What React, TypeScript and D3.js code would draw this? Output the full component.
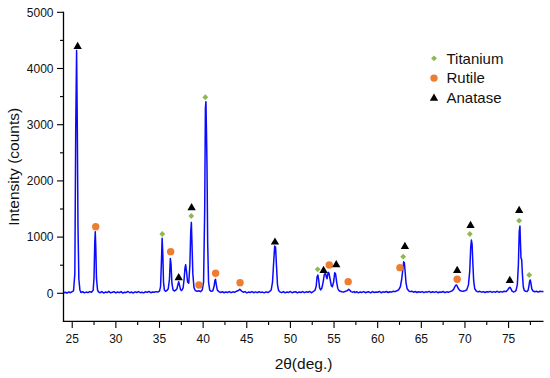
import React from 'react';
import * as d3 from 'd3';

// XRD pattern: [2θ, intensity]
const pattern: [number, number][] = [
  [24.0, 5], [24.2, 18], [24.4, 2], [24.6, 25], [24.8, 10], [25.0, 30], [25.15, 45],
  [25.3, 350], [25.4, 2900], [25.5, 4320], [25.58, 3000], [25.66, 1200], [25.76, 250], [25.88, 60],
  [26.0, 15], [26.2, 28], [26.4, 8], [26.6, 22], [26.8, 12], [27.0, 30], [27.2, 18], [27.4, 55],
  [27.5, 280], [27.58, 900], [27.64, 1096], [27.7, 820], [27.78, 260], [27.9, 60], [28.0, 25],
  [28.2, 10], [28.4, 30], [28.6, 5], [28.8, 22], [29.0, 14], [29.2, 35], [29.4, 8], [29.6, 20],
  [29.8, 28], [30.0, 6], [30.2, 24], [30.4, 12], [30.6, 30], [30.8, 4], [31.0, 20], [31.2, 15],
  [31.4, 32], [31.6, 10], [31.8, 22], [32.0, 6], [32.2, 26], [32.4, 14], [32.6, 30], [32.8, 12],
  [33.0, 20], [33.2, 8], [33.4, 28], [33.6, 16], [33.8, 34], [34.0, 10], [34.2, 24], [34.4, 18],
  [34.6, 30], [34.8, 22], [35.0, 40],
  [35.12, 120], [35.22, 550], [35.3, 980], [35.38, 700], [35.46, 200], [35.56, 60],
  [35.7, 35], [35.85, 50], [36.0, 80],
  [36.14, 250], [36.24, 620], [36.32, 520], [36.42, 180], [36.55, 60], [36.7, 40], [36.85, 55], [37.0, 80],
  [37.1, 150], [37.2, 205], [37.3, 140], [37.42, 60], [37.55, 50], [37.7, 90], [37.82, 250],
  [37.92, 450], [38.0, 510], [38.1, 380], [38.22, 200], [38.35, 180], [38.48, 500],
  [38.58, 1100], [38.65, 1262], [38.72, 900], [38.82, 350], [38.95, 100], [39.1, 50], [39.3, 35],
  [39.5, 45], [39.7, 30], [39.9, 60], [40.05, 200],
  [40.18, 1500], [40.26, 3300], [40.32, 3410], [40.38, 2900], [40.44, 2300], [40.52, 900],
  [40.62, 200], [40.75, 60], [40.9, 35], [41.1, 40], [41.25, 120],
  [41.35, 230], [41.42, 250], [41.5, 160], [41.62, 60], [41.8, 30], [42.0, 15], [42.2, 28],
  [42.4, 10], [42.6, 24], [42.8, 14], [43.0, 30], [43.2, 12], [43.4, 26], [43.6, 18], [43.8, 35],
  [44.0, 45], [44.2, 70], [44.4, 40], [44.6, 20], [44.8, 30], [45.0, 8], [45.2, 22], [45.4, 15],
  [45.6, 30], [45.8, 10], [46.0, 25], [46.2, 12], [46.4, 28], [46.6, 16], [46.8, 22], [47.0, 8],
  [47.2, 26], [47.4, 14], [47.6, 30], [47.8, 60],
  [47.95, 200], [48.1, 600], [48.2, 840], [48.3, 820], [48.4, 500], [48.52, 150], [48.65, 50],
  [48.8, 25], [49.0, 12], [49.2, 30], [49.4, 8], [49.6, 24], [49.8, 16], [50.0, 32], [50.2, 10],
  [50.4, 22], [50.6, 28], [50.8, 6], [51.0, 24], [51.2, 14], [51.4, 30], [51.6, 12], [51.8, 26],
  [52.0, 18], [52.2, 34], [52.4, 10], [52.6, 28], [52.8, 50],
  [52.95, 120], [53.05, 290], [53.15, 325], [53.24, 240], [53.34, 100], [53.46, 60], [53.6, 90],
  [53.75, 200], [53.88, 330], [54.0, 366], [54.1, 300], [54.2, 260], [54.32, 373], [54.42, 360],
  [54.55, 250], [54.68, 140], [54.8, 117], [54.95, 200], [55.08, 366], [55.18, 340], [55.3, 200],
  [55.42, 90], [55.55, 50], [55.7, 35], [55.9, 28], [56.1, 22], [56.3, 35], [56.5, 45], [56.68, 70],
  [56.8, 55], [56.95, 30], [57.1, 20], [57.3, 30], [57.4, 12], [57.6, 28], [57.8, 8], [58.0, 24],
  [58.2, 16], [58.4, 30], [58.6, 10], [58.8, 22], [59.0, 26], [59.2, 8], [59.4, 30], [59.6, 14],
  [59.8, 24], [60.0, 18], [60.2, 34], [60.4, 10], [60.6, 26], [60.8, 20], [61.0, 32], [61.2, 14],
  [61.4, 28], [61.6, 22], [61.8, 38], [62.0, 30], [62.2, 45], [62.4, 60], [62.6, 120],
  [62.75, 250], [62.88, 420], [62.98, 560], [63.06, 540], [63.15, 380], [63.25, 180], [63.38, 80],
  [63.55, 45], [63.7, 30], [63.9, 38], [64.1, 20], [64.3, 32], [64.5, 14], [64.7, 28], [64.9, 18],
  [65.1, 30], [65.3, 12], [65.5, 26], [65.7, 20], [65.9, 34], [66.1, 14], [66.3, 28], [66.5, 16],
  [66.7, 30], [66.9, 10], [67.1, 24], [67.3, 18], [67.5, 32], [67.7, 12], [67.9, 26], [68.1, 20],
  [68.3, 30], [68.5, 40], [68.7, 70],
  [68.85, 120], [68.95, 145], [69.05, 148], [69.15, 115], [69.28, 75], [69.42, 50], [69.6, 40],
  [69.8, 35], [70.0, 45], [70.2, 60], [70.4, 150],
  [70.55, 400], [70.66, 820], [70.74, 948], [70.82, 870], [70.9, 550], [71.0, 220], [71.12, 80],
  [71.3, 40], [71.5, 25], [71.7, 35], [71.9, 20], [72.1, 30], [72.3, 14], [72.5, 28], [72.7, 22],
  [72.9, 34], [73.1, 16], [73.3, 30], [73.5, 20], [73.7, 36], [73.9, 18], [74.1, 30], [74.3, 24],
  [74.5, 38], [74.7, 30], [74.9, 60],
  [75.05, 95], [75.15, 107], [75.25, 85], [75.4, 40], [75.55, 25], [75.7, 30], [75.85, 50], [76.0, 150],
  [76.12, 500], [76.22, 1100], [76.3, 1197], [76.36, 900], [76.42, 630], [76.5, 600], [76.58, 350],
  [76.68, 120], [76.8, 50], [76.95, 35], [77.1, 30], [77.25, 60], [77.35, 150],
  [77.42, 220], [77.48, 237], [77.56, 180], [77.66, 80], [77.8, 40], [78.0, 28], [78.2, 36],
  [78.4, 22], [78.6, 38], [78.8, 30], [79.0, 34],
];

// phase markers: [2θ, marker height]
const titanium: [number, number][] = [
  [35.32, 1055], [38.64, 1375], [40.25, 3488], [53.12, 427], [62.92, 652],
  [70.56, 1055], [76.21, 1292], [77.36, 326],
];
const rutile: [number, number][] = [
  [27.69, 1185], [36.28, 740], [39.52, 148], [41.43, 356], [44.23, 189],
  [54.45, 503], [56.62, 207], [62.55, 456], [69.11, 249],
];
const anatase: [number, number][] = [
  [25.62, 4400], [37.2, 285], [38.68, 1530], [48.23, 918], [53.8, 414],
  [55.25, 516], [63.12, 842], [69.11, 415], [70.64, 1215], [75.14, 237], [76.21, 1482],
];

const xMajor = [25, 30, 35, 40, 45, 50, 55, 60, 65, 70, 75];
const xMinor = [27.5, 32.5, 37.5, 42.5, 47.5, 52.5, 57.5, 62.5, 67.5, 72.5, 77.5];
const yMajor = [0, 1000, 2000, 3000, 4000, 5000];
const yMinor = [500, 1500, 2500, 3500, 4500];

const legendItems = [
  { label: 'Titanium', kind: 'diamond' },
  { label: 'Rutile', kind: 'circle' },
  { label: 'Anatase', kind: 'triangle' },
];

const colors: Record<string, string> = {
  diamond: '#8fb851',
  circle: '#ed7d31',
  triangle: '#000000',
};

const FONT = '"Liberation Sans", Arial, sans-serif';

const Marker = ({ kind, x, y }: { kind: string; x: number; y: number }) => {
  if (kind === 'circle') return <circle cx={x} cy={y} r={3.7} fill={colors.circle} />;
  if (kind === 'diamond') {
    const d = d3.symbol().type(d3.symbolSquare).size(17)();
    return <path d={d || ''} transform={`translate(${x},${y}) rotate(45)`} fill={colors.diamond} />;
  }
  const d = d3.symbol().type(d3.symbolTriangle).size(30)();
  return <path d={d || ''} transform={`translate(${x},${y + 0.5})`} fill={colors.triangle} />;
};

export default function App() {
  const width = 550;
  const height = 378;
  const x = d3.scaleLinear().domain([24, 79]).range([63.5, 543.5]);
  const y = d3.scaleLinear().domain([-500, 5000]).range([321.4, 12.3]);
  const line = d3.line<[number, number]>().x(d => x(d[0])).y(d => y(d[1]));
  const x0 = x.range()[0];
  const y0 = y.range()[0];

  return (
    <svg width={width} height={height} style={{ position: 'absolute', left: 0, top: 0, background: '#fff' }}
      fontFamily={FONT}>
      <path d={line(pattern) || ''} fill="none" stroke="#0a0aff" strokeWidth={1.5} strokeLinejoin="round" />

      {titanium.map((d, i) => <Marker key={'t' + i} kind="diamond" x={x(d[0])} y={y(d[1])} />)}
      {rutile.map((d, i) => <Marker key={'r' + i} kind="circle" x={x(d[0])} y={y(d[1])} />)}
      {anatase.map((d, i) => <Marker key={'a' + i} kind="triangle" x={x(d[0])} y={y(d[1])} />)}

      {/* axes */}
      <line x1={x0} x2={x0} y1={y(5000) - 0.5} y2={y0 + 0.6} stroke="#000" strokeWidth={1.3} />
      <line x1={x0 - 0.6} x2={x.range()[1]} y1={y0} y2={y0} stroke="#000" strokeWidth={1.3} />

      {yMajor.map(v => (
        <g key={'ym' + v}>
          <line x1={x0 - 6.5} x2={x0} y1={y(v)} y2={y(v)} stroke="#000" strokeWidth={1.1} />
          <text x={x0 - 10} y={y(v)} dy="0.36em" textAnchor="end" fontSize={12} fill="#111">{v}</text>
        </g>
      ))}
      {yMinor.map(v => (
        <line key={'yn' + v} x1={x0 - 3.5} x2={x0} y1={y(v)} y2={y(v)} stroke="#000" strokeWidth={1.1} />
      ))}
      {xMajor.map(v => (
        <g key={'xm' + v}>
          <line x1={x(v)} x2={x(v)} y1={y0} y2={y0 + 6.5} stroke="#000" strokeWidth={1.1} />
          <text x={x(v)} y={y0 + 21.5} textAnchor="middle" fontSize={12} fill="#111">{v}</text>
        </g>
      ))}
      {xMinor.map(v => (
        <line key={'xn' + v} x1={x(v)} x2={x(v)} y1={y0} y2={y0 + 3.5} stroke="#000" strokeWidth={1.1} />
      ))}

      <text transform={`translate(19,${(y.range()[0] + y.range()[1]) / 2}) rotate(-90)`} textAnchor="middle"
        fontSize={15.5} fill="#111">Intensity (counts)</text>
      <text x={(x.range()[0] + x.range()[1]) / 2} y={369} textAnchor="middle" fontSize={15.5} fill="#111">2θ(deg.)</text>

      {legendItems.map((item, i) => (
        <g key={item.label}>
          <Marker kind={item.kind} x={434} y={58.3 + i * 19.8} />
          <text x={446.5} y={63.5 + i * 19.7} fontSize={15} fill="#111">{item.label}</text>
        </g>
      ))}
    </svg>
  );
}
